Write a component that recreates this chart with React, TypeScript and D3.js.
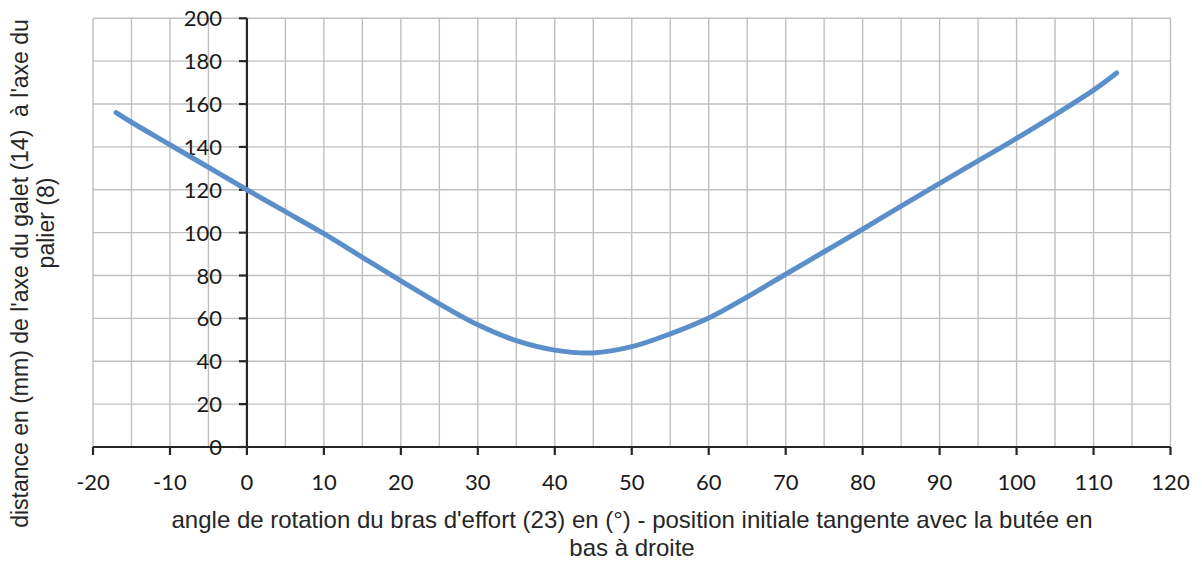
import React from "react";
import * as d3 from "d3";

const angles = [-17, -15, -10, -5, 0, 5, 10, 15, 20, 25, 30, 35, 40, 45, 50, 55, 60, 65, 70, 75, 80, 85, 90, 95, 100, 105, 110, 113];
const distances = [156, 151.5, 141, 130.5, 120, 109.8, 99.5, 88.5, 77.5, 66.8, 57, 49.6, 45.2, 43.9, 46.8, 52.8, 60.2, 70, 80.6, 91.1, 101.6, 112.4, 123, 133.5, 144, 155, 166.5, 174.5];
const xTicks = [-20, -10, 0, 10, 20, 30, 40, 50, 60, 70, 80, 90, 100, 110, 120];
const xGrid = d3.range(-20, 121, 5);
const yTicks = [0, 20, 40, 60, 80, 100, 120, 140, 160, 180, 200];
const xTitle1 = "angle de rotation du bras d'effort (23) en (°) - position initiale tangente avec la butée en";
const xTitle2 = "bas à droite";
const yTitle1 = "distance en (mm) de l'axe du galet (14)  à l'axe du";
const yTitle2 = "palier (8)";

export default function App() {
  const W = 1202, H = 562;
  const x = d3.scaleLinear().domain([-20, 120]).range([93, 1170.5]);
  const y = d3.scaleLinear().domain([0, 200]).range([447, 18.3]);
  const data = angles.map((a, i) => [a, distances[i]] as [number, number]);
  const line = d3.line<[number, number]>().x(d => x(d[0])).y(d => y(d[1])).curve(d3.curveCatmullRom.alpha(0.5));
  const grid = "#bfbfbf";
  const axis = "#262626";
  const tickFont = "Lato, 'Open Sans', sans-serif";
  const titleFont = "'Liberation Sans', Arial, sans-serif";
  return (
    <svg width={W} height={H} style={{ position: "absolute", left: 0, top: 0, background: "#fff" }}>
      <rect x={0} y={0} width={W} height={H} fill="#fff" />
      {xGrid.map(v => (
        <line key={"gx" + v} x1={x(v)} x2={x(v)} y1={y(200)} y2={y(0)} stroke={grid} strokeWidth={1.4} />
      ))}
      {yTicks.map(v => (
        <line key={"gy" + v} x1={x(-20)} x2={x(120)} y1={y(v)} y2={y(v)} stroke={grid} strokeWidth={1.4} />
      ))}
      <line x1={x(-20)} x2={x(120)} y1={y(0)} y2={y(0)} stroke={axis} strokeWidth={2.2} />
      <line x1={x(0)} x2={x(0)} y1={y(0)} y2={y(200)} stroke={axis} strokeWidth={2.2} />
      {xTicks.map(v => (
        <g key={"xt" + v}>
          <line x1={x(v)} x2={x(v)} y1={y(0)} y2={y(0) + 8} stroke={axis} strokeWidth={2.2} />
          <text x={x(v)} y={490} textAnchor="middle" fontFamily={tickFont} fontSize={22} fill="#1a1a1a">{v}</text>
        </g>
      ))}
      {yTicks.map(v => (
        <g key={"yt" + v}>
          <line x1={x(0) - 8} x2={x(0)} y1={y(v)} y2={y(v)} stroke={axis} strokeWidth={2.2} />
          <text x={222} y={y(v) + 8} textAnchor="end" fontFamily={tickFont} fontSize={22} fill="#1a1a1a">{v}</text>
        </g>
      ))}
      <path d={line(data) || ""} fill="none" stroke="#5a8fc9" strokeWidth={5} strokeLinecap="round" strokeLinejoin="round" />
      <text x={632} y={528} textAnchor="middle" fontFamily={titleFont} fontSize={24} fill="#262626">{xTitle1}</text>
      <text x={632} y={556} textAnchor="middle" fontFamily={titleFont} fontSize={24} fill="#262626">{xTitle2}</text>
      <text transform={`translate(28,273.5) rotate(-90)`} textAnchor="middle" fontFamily={titleFont} fontSize={23} fill="#262626" style={{ whiteSpace: "pre" }}>{yTitle1}</text>
      <text transform={`translate(54,223) rotate(-90)`} textAnchor="middle" fontFamily={titleFont} fontSize={23} fill="#262626">{yTitle2}</text>
    </svg>
  );
}
